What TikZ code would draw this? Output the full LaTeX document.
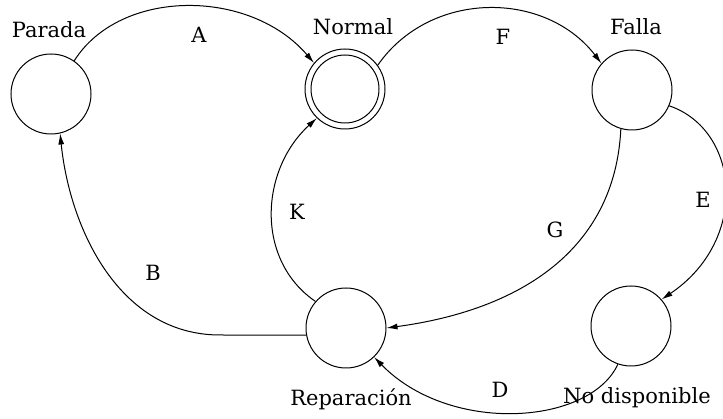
\documentclass[tikz,border=0pt]{standalone}
\usepackage{fontspec}
\setmainfont{DejaVu Serif}
\usetikzlibrary{arrows.meta}
\begin{document}
\begin{tikzpicture}[x=1pt,y=-1pt,
  state/.style={circle,draw,minimum size=80pt,inner sep=0pt,line width=1pt},
  inner state/.style={circle,draw,minimum size=68pt,inner sep=0pt,line width=1pt},
  lbl/.style={font=\fontsize{21}{25}\selectfont,inner sep=0pt,anchor=base},
  edge/.style={line width=1pt,-{Latex[length=11pt,width=6pt]}}]
\useasboundingbox (0,0) rectangle (723,419);
% states
\node[state] (P) at (51,94) {};
\node[state] (N) at (345,89) {};
\node[inner state] (Ni) at (345,89) {};
\node[state] (F) at (632,90) {};
\node[state] (R) at (346,328) {};
\node[state] (D) at (631,326) {};
% state names
\node[lbl] (tP) at (49,38) {Parada};
\node[lbl] (tN) at (353,35) {Normal};
\node[lbl] (tF) at (636,35) {Falla};
\node[lbl] (tR) at (351,406) {Reparación};
\node[lbl] (tD) at (637,404) {No disponible};
% edge labels
\node[lbl] (lA) at (199,43) {A};
\node[lbl] (lF) at (503,45) {F};
\node[lbl] (lK) at (297,220) {K};
\node[lbl] (lB) at (153,281) {B};
\node[lbl] (lG) at (555,238) {G};
\node[lbl] (lE) at (703,208) {E};
\node[lbl] (lD) at (500,398) {D};
% transitions
\coordinate (b1) at (220,335);
\draw[edge] (P.55) .. controls (120,-12) and (250,-12) .. (N.140);
\draw[edge] (N.36) .. controls (430,-10) and (545,-10) .. (F.139);
\draw[edge] (F.-23) .. controls (740,130) and (750,240) .. (D.41);
\draw[edge] (F.-106) .. controls (615,250) and (520,310) .. (R.east);
\draw[edge] (D.-109) .. controls (590,425) and (450,435) .. (R.-46);
\draw[edge] (R.139) .. controls (255,260) and (260,170) .. (N.-134);
\draw[edge] (R.190) -- (b1) .. controls (120,335) and (70,230) .. (P.-77);
\end{tikzpicture}
\end{document}
